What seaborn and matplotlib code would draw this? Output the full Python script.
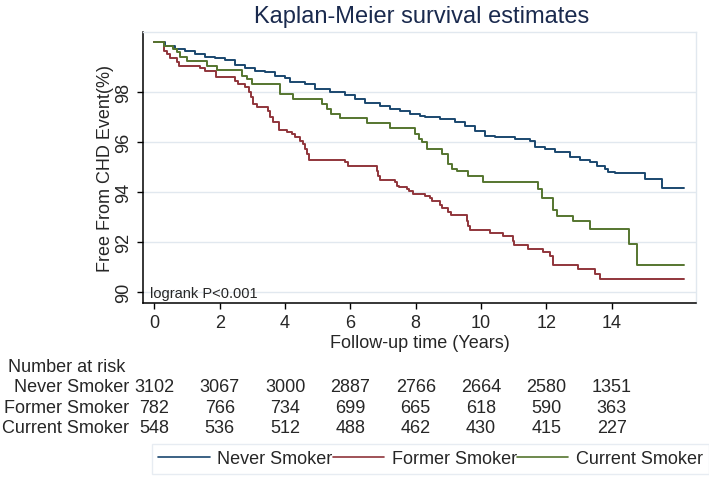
import numpy as np
import pandas as pd
import matplotlib
matplotlib.use("Agg")
import matplotlib.pyplot as plt
import matplotlib.transforms as mtransforms
from matplotlib.lines import Line2D
import seaborn as sns

# Courbes Kaplan-Meier (temps en années, survie en %)
never_t = [0, 0.33, 0.63, 0.94, 1.25, 1.55, 1.86, 2.16, 2.47, 2.78, 3.08, 3.39, 3.69, 4.0,
           4.15, 4.61, 4.92, 5.38, 5.84, 6.15, 6.45, 6.91, 7.22, 7.52, 7.83, 8.13, 8.29,
           8.75, 9.21, 9.52, 9.82, 10.13, 10.43, 11.04, 11.5, 11.65, 11.96, 12.27, 12.42,
           12.72, 13.03, 13.34, 13.54, 13.8, 13.9, 14.1, 15.02, 15.53, 16.2]
never_s = [100, 99.84, 99.73, 99.64, 99.53, 99.4, 99.37, 99.29, 99.1, 98.96, 98.86, 98.8,
           98.66, 98.56, 98.42, 98.33, 98.13, 98.0, 97.89, 97.73, 97.56, 97.46, 97.33,
           97.24, 97.13, 97.06, 97.0, 96.93, 96.8, 96.66, 96.46, 96.26, 96.2, 96.13, 96.04,
           95.82, 95.73, 95.62, 95.6, 95.4, 95.3, 95.22, 95.06, 94.93, 94.82, 94.77, 94.53,
           94.16, 94.16]

former_t = [0, 0.28, 0.38, 0.48, 0.68, 0.74, 1.40, 1.55, 1.88, 2.47, 2.57, 2.78, 2.90, 2.96,
            3.03, 3.13, 3.49, 3.55, 3.64, 3.80, 4.07, 4.2, 4.31, 4.46, 4.56, 4.6, 4.66,
            4.74, 5.84, 5.94, 6.81, 6.86, 6.91, 7.37, 7.42, 7.5, 7.73, 7.8, 7.93, 8.29,
            8.44, 8.5, 8.75, 8.8, 9.0, 9.08, 9.56, 9.6, 9.66, 10.28, 10.68, 10.99, 11.02,
            11.45, 11.91, 12.11, 12.21, 12.98, 13.5, 13.64, 16.2]
former_s = [100, 99.66, 99.53, 99.37, 99.2, 99.06, 98.97, 98.84, 98.62, 98.46, 98.33, 98.2,
            98.0, 97.8, 97.53, 97.42, 97.26, 97.0, 96.8, 96.49, 96.4, 96.33, 96.2, 96.06,
            95.93, 95.73, 95.53, 95.3, 95.2, 95.06, 94.86, 94.66, 94.5, 94.4, 94.26, 94.2,
            94.13, 94.06, 93.93, 93.86, 93.77, 93.64, 93.5, 93.36, 93.22, 93.09, 92.86,
            92.66, 92.5, 92.37, 92.24, 92.06, 91.89, 91.73, 91.6, 91.44, 91.1, 90.93,
            90.72, 90.53, 90.53]

current_t = [0, 0.28, 0.58, 0.69, 0.79, 0.99, 1.6, 1.91, 2.68, 2.83, 2.98, 3.85, 4.25, 5.12,
             5.28, 5.4, 5.68, 6.5, 7.21, 7.98, 8.1, 8.2, 8.34, 8.8, 9.0, 9.1, 9.26, 9.61,
             10.07, 11.75, 11.86, 12.21, 12.34, 12.83, 13.34, 14.54, 14.78, 16.2]
current_s = [100, 99.86, 99.73, 99.6, 99.4, 99.26, 99.06, 98.89, 98.66, 98.53, 98.33, 97.93,
             97.73, 97.53, 97.33, 97.13, 96.96, 96.76, 96.57, 96.33, 96.13, 96.0, 95.73,
             95.53, 95.13, 94.93, 94.86, 94.66, 94.43, 94.13, 93.76, 93.3, 93.06, 92.84,
             92.53, 91.93, 91.1, 91.1]

groups = ["Never Smoker", "Former Smoker", "Current Smoker"]
colors = ["#1a476f", "#90353b", "#55752f"]

# Nombre de sujets à risque
risk_times = [0, 2, 4, 6, 8, 10, 12, 14]
risk_never = [3102, 3067, 3000, 2887, 2766, 2664, 2580, 1351]
risk_former = [782, 766, 734, 699, 665, 618, 590, 363]
risk_current = [548, 536, 512, 488, 462, 430, 415, 227]

# Construction du DataFrame
df = pd.concat([
    pd.DataFrame({"time": never_t, "surv": never_s, "group": groups[0]}),
    pd.DataFrame({"time": former_t, "surv": former_s, "group": groups[1]}),
    pd.DataFrame({"time": current_t, "surv": current_s, "group": groups[2]}),
], ignore_index=True)

sns.set_theme(style="white")
plt.rcParams['font.family'] = ['Liberation Sans', 'DejaVu Sans']

fig = plt.figure(figsize=(7.09, 4.85), dpi=100)
ax = fig.add_axes([0.2021, 0.3726, 0.7795, 0.5594])

sns.lineplot(data=df, x="time", y="surv", hue="group", hue_order=groups,
             palette=colors, drawstyle="steps-post", estimator=None,
             linewidth=1.4, legend=False, ax=ax)

ax.set_xlim(-0.34, 16.58)
ax.set_ylim(89.56, 100.41)
ax.set_xticks(risk_times)
ax.set_yticks([90, 92, 94, 96, 98])
ax.yaxis.grid(True, color="#e1e8ef", linewidth=1)
ax.xaxis.grid(False)

for s in ["left", "bottom"]:
    ax.spines[s].set_color("black")
    ax.spines[s].set_linewidth(1.1)
for s in ["top", "right"]:
    ax.spines[s].set_color("#e1e8ef")
    ax.spines[s].set_linewidth(1)

ax.tick_params(axis="both", which="major", length=4.3, width=1, color="black",
               labelsize=13, pad=3.5, direction="out", bottom=True, left=True)
plt.setp(ax.get_yticklabels(), rotation=90, va="center")

ax.set_xlabel("Follow-up time (Years)", fontsize=13)
ax.xaxis.set_label_coords(0.5, -0.143)
ax.xaxis.label.set_va("center")
ax.set_ylabel("Free From CHD Event(%)", fontsize=13)
ax.yaxis.set_label_coords(-0.069, 0.5)
ax.yaxis.label.set_va("center")

ax.text(0.012, 0.038, "logrank P<0.001", transform=ax.transAxes, fontsize=10.5,
        va="center", ha="left")

fig.text(0.595, 0.965, "Kaplan-Meier survival estimates", fontsize=17,
         color="#1a2a4e", ha="center", va="center")

# Tableau des effectifs à risque
trans = mtransforms.blended_transform_factory(ax.transData, fig.transFigure)
fig.text(8 / 709, 1 - 368 / 485, "Number at risk", fontsize=13, va="center", ha="left")
rows_y = [1 - 388 / 485, 1 - 409 / 485, 1 - 429 / 485]
for name, vals, y in zip(groups, [risk_never, risk_former, risk_current], rows_y):
    fig.text(129 / 709, y, name, fontsize=13, va="center", ha="right")
    for t, v in zip(risk_times, vals):
        ax.text(t, y, str(v), transform=trans, fontsize=13, va="center", ha="center",
                clip_on=False)

handles = [Line2D([0], [0], color=c, lw=1.2) for c in colors]
leg = fig.legend(handles, groups, ncol=3, loc="upper left",
                 bbox_to_anchor=(152 / 709, 1 - 445 / 485), fontsize=13,
                 frameon=True, fancybox=False, edgecolor="#e1e8ef",
                 handlelength=2.85, handletextpad=0.42, columnspacing=0.0,
                 borderpad=0.35, borderaxespad=0)
leg.get_frame().set_linewidth(1)

fig.savefig("out.png", dpi=100, facecolor="white")
